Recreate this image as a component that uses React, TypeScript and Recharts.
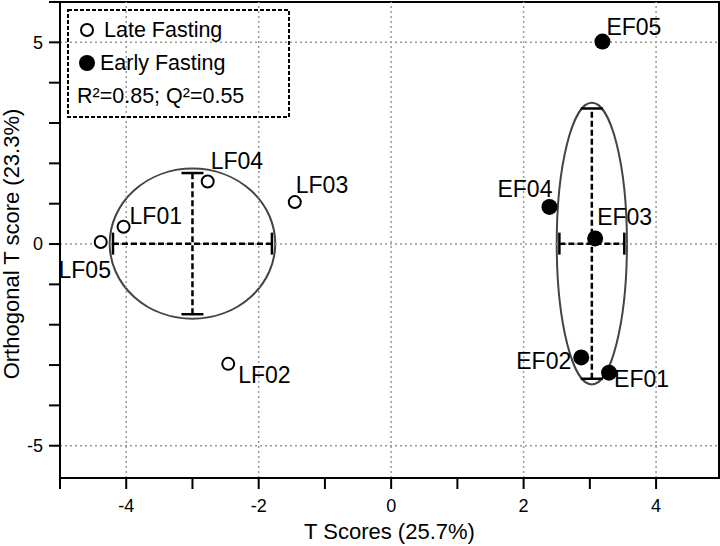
import React from 'react';
import {
  ScatterChart,
  Scatter,
  XAxis,
  YAxis,
  ErrorBar,
  ReferenceArea,
  ReferenceLine,
  Label,
} from 'recharts';

// sample scores
const lateNames = ['LF01', 'LF02', 'LF03', 'LF04', 'LF05'];
const lateT = [-4.04, -2.46, -1.455, -2.77, -4.385];
const lateOrtho = [0.43, -2.97, 1.04, 1.55, 0.05];

const earlyNames = ['EF01', 'EF02', 'EF03', 'EF04', 'EF05'];
const earlyT = [3.29, 2.87, 3.08, 2.39, 3.19];
const earlyOrtho = [-3.19, -2.81, 0.14, 0.92, 5.02];

// group centres, error bars (+/-) and ellipse half-axes
const groupNames = ['Late Fasting', 'Early Fasting'];
const centreT = [-3.0, 3.03];
const centreOrtho = [0.01, 0.01];
const spreadT = [1.2, 0.49];
const spreadOrtho = [1.75, 3.35];
const ellipseT = [1.25, 0.53];
const ellipseOrtho = [1.86, 3.49];

const xTicks = [-5, -4, -3, -2, -1, 0, 1, 2, 3, 4];
const xLabelled = [-4, -2, 0, 2, 4];
const yTicks = [-5, -4, -3, -2, -1, 0, 1, 2, 3, 4, 5, 6];
const yLabelled = [-5, 0, 5];

const FONT = '"Liberation Sans", Arial, sans-serif';

// where each sample name sits relative to its marker
const labelPos: Record<string, [number, number, 'start' | 'middle' | 'end']> = {
  LF01: [6, -11, 'start'],
  LF02: [10, 11, 'start'],
  LF03: [1, -17, 'start'],
  LF04: [3, -21, 'start'],
  LF05: [-16, 28, 'middle'],
  EF01: [5, 6, 'start'],
  EF02: [-10, 4, 'end'],
  EF03: [2, -21, 'start'],
  EF04: [3, -18, 'end'],
  EF05: [4, -15, 'start'],
};

const late = lateNames.map((name, i) => ({ name, t: lateT[i], o: lateOrtho[i] }));
const early = earlyNames.map((name, i) => ({ name, t: earlyT[i], o: earlyOrtho[i] }));
const centres = groupNames.map((name, i) => ({
  name,
  t: centreT[i],
  o: centreOrtho[i],
  et: spreadT[i],
  eo: spreadOrtho[i],
}));

function pointShape(filled: boolean) {
  return (props: any) => {
    const { cx, cy, payload } = props;
    const [dx, dy, anchor] = labelPos[payload.name];
    return (
      <g>
        {filled ? (
          <circle cx={cx} cy={cy} r={8} fill="#000" />
        ) : (
          <circle cx={cx} cy={cy} r={6} fill="#fff" stroke="#000" strokeWidth={2} />
        )}
        <text
          x={cx + dx}
          y={cy + dy}
          textAnchor={anchor}
          dominantBaseline="central"
          fontSize={23}
          fontFamily={FONT}
          fill="#000"
        >
          {payload.name}
        </text>
      </g>
    );
  };
}

const ellipseShape = (props: any) => {
  const { x, y, width, height } = props;
  return (
    <ellipse
      cx={x + width / 2}
      cy={y + height / 2}
      rx={Math.abs(width) / 2}
      ry={Math.abs(height) / 2}
      fill="none"
      stroke="#444"
      strokeWidth={2}
    />
  );
};

function Legend() {
  return (
    <svg
      width={225}
      height={112}
      style={{ position: 'absolute', left: 66, top: 8 }}
    >
      <rect x={2} y={2} width={221} height={107} fill="none" stroke="#000" strokeWidth={2} strokeDasharray="4 2" />
      <circle cx={21} cy={22} r={6} fill="#fff" stroke="#000" strokeWidth={2} />
      <text x={38} y={22} dominantBaseline="central" fontSize={21.5} fontFamily={FONT}>
        Late Fasting
      </text>
      <circle cx={21} cy={55} r={8} fill="#000" />
      <text x={34} y={55} dominantBaseline="central" fontSize={21.5} fontFamily={FONT}>
        Early Fasting
      </text>
      <text x={11} y={88} dominantBaseline="central" fontSize={21.5} fontFamily={FONT}>
        R²=0.85; Q²=0.55
      </text>
    </svg>
  );
}

// dashed error bars with solid caps (the main line is the middle <line> of each bar)
const errorBarCss = `
.recharts-errorBar line { stroke-dasharray: none; }
.recharts-errorBar line:nth-child(3n+2) { stroke-dasharray: 6 3; }
`;

export default function App() {
  const tickStyle = { fontSize: 18, fontFamily: FONT, fill: '#000' };
  return (
    <div style={{ position: 'absolute', left: 0, top: 0, width: 720, height: 546, background: '#fff' }}>
      <style>{errorBarCss}</style>
      <ScatterChart width={720} height={546} margin={{ top: 2, right: 1, left: 0, bottom: 0 }}>
        <XAxis
          type="number"
          dataKey="t"
          domain={[-5, 4.95]}
          ticks={xTicks}
          allowDataOverflow
          tickFormatter={(v) => (xLabelled.includes(v) ? String(v) : '')}
          tick={tickStyle}
          tickSize={11}
          tickMargin={10}
          height={68}
          axisLine={{ stroke: '#000', strokeWidth: 2 }}
          tickLine={{ stroke: '#000', strokeWidth: 2 }}
        >
          <Label
            value="T Scores (25.7%)"
            position="insideBottom"
            offset={7}
            style={{ fontSize: 22, fontFamily: FONT, fill: '#000' }}
          />
        </XAxis>
        <YAxis
          type="number"
          dataKey="o"
          domain={[-5.8, 6]}
          ticks={yTicks}
          allowDataOverflow
          tickFormatter={(v) => (yLabelled.includes(v) ? String(v) : '')}
          tick={tickStyle}
          tickSize={11}
          tickMargin={6}
          width={60}
          axisLine={{ stroke: '#000', strokeWidth: 2 }}
          tickLine={{ stroke: '#000', strokeWidth: 2 }}
        >
          <Label
            content={(props: any) => {
              const vb = props.viewBox;
              const cy = vb.y + vb.height / 2 + 4;
              return (
                <text
                  x={11}
                  y={cy}
                  transform={`rotate(-90, 11, ${cy})`}
                  textAnchor="middle"
                  dominantBaseline="central"
                  fontSize={22}
                  fontFamily={FONT}
                  fill="#000"
                >
                  Orthogonal T score (23.3%)
                </text>
              );
            }}
          />
        </YAxis>

        {xLabelled.map((v) => (
          <ReferenceLine key={'gx' + v} x={v} stroke="#999" strokeWidth={1.5} strokeDasharray="2 3" />
        ))}
        {yLabelled.map((v) => (
          <ReferenceLine key={'gy' + v} y={v} stroke="#999" strokeWidth={1.5} strokeDasharray="2 3" />
        ))}

        {centres.map((c, i) => (
          <ReferenceArea
            key={'el' + c.name}
            x1={c.t - ellipseT[i]}
            x2={c.t + ellipseT[i]}
            y1={c.o - ellipseOrtho[i]}
            y2={c.o + ellipseOrtho[i]}
            shape={ellipseShape}
          />
        ))}

        <Scatter data={centres} shape={() => <g />} isAnimationActive={false}>
          <ErrorBar dataKey="et" direction="x" width={11} stroke="#000" strokeWidth={2.5} />
          <ErrorBar dataKey="eo" direction="y" width={11} stroke="#000" strokeWidth={2.5} />
        </Scatter>

        <Scatter data={late} shape={pointShape(false)} isAnimationActive={false} />
        <Scatter data={early} shape={pointShape(true)} isAnimationActive={false} />

        <ReferenceArea x1={-5} x2={4.95} y1={-5.8} y2={6} fill="none" stroke="#000" strokeWidth={2} />
      </ScatterChart>
      <Legend />
    </div>
  );
}
